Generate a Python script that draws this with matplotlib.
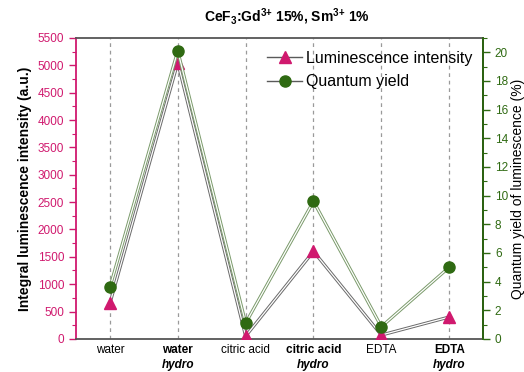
import matplotlib.pyplot as plt
import matplotlib.transforms as mtransforms
from matplotlib.ticker import MultipleLocator

plt.rcParams["font.family"] = ["Liberation Sans", "DejaVu Sans"]
plt.rcParams["mathtext.fontset"] = "custom"
plt.rcParams["mathtext.rm"] = "Liberation Sans"
plt.rcParams["mathtext.bf"] = "Liberation Sans:bold"

samples = ["water", "water", "citric acid", "citric acid", "EDTA", "EDTA"]
hydro = [False, True, False, True, False, True]
intensity = [650, 5050, 50, 1600, 70, 400]
quantum_yield = [3.6, 20.1, 1.1, 9.6, 0.85, 5.0]

PINK = "#d0196e"
GREEN = "#2f6a12"
x = list(range(len(samples)))

fig = plt.figure(figsize=(5.24, 3.72), dpi=100)
ax = fig.add_axes([0.145, 0.089, 0.777, 0.809])
ax2 = ax.twinx()

# vertical guides at each sample
for xi in x:
    ax.axvline(xi, color="#9a9a9a", ls=(0, (3, 3)), lw=0.9, zorder=0)

# double-stroke connecting lines
ax.plot(x, intensity, color="#6a6a6a", lw=2.3, zorder=2)
ax.plot(x, intensity, color="white", lw=0.9, zorder=2)
ax2.plot(x, quantum_yield, color="#7a9a6a", lw=2.3, zorder=2)
ax2.plot(x, quantum_yield, color="white", lw=0.9, zorder=2)

ax.plot(x, intensity, ls="none", marker="^", ms=9, color=PINK, zorder=4)
ax2.plot(x, quantum_yield, ls="none", marker="o", ms=8, color=GREEN, zorder=4)

ax.set_xlim(-0.5, 5.5)
ax.set_ylim(0, 5500)
ax2.set_ylim(0, 21)

ax.yaxis.set_major_locator(MultipleLocator(500))
ax.yaxis.set_minor_locator(MultipleLocator(250))
ax2.yaxis.set_major_locator(MultipleLocator(2))
ax2.yaxis.set_minor_locator(MultipleLocator(1))

ax.tick_params(axis="y", which="both", colors=PINK, labelsize=8.5,
               direction="out")
ax.tick_params(axis="y", which="major", length=5, width=1)
ax.tick_params(axis="y", which="minor", length=3, width=0.8)
ax2.tick_params(axis="y", which="both", colors=GREEN, labelsize=8.5,
                direction="out")
ax2.tick_params(axis="y", which="major", length=5, width=1)
ax2.tick_params(axis="y", which="minor", length=3, width=0.8)

ax.spines["left"].set_color(PINK)
ax2.spines["left"].set_visible(False)
ax2.spines["right"].set_color(GREEN)
for sp in ("left", "right", "top", "bottom"):
    ax.spines[sp].set_linewidth(1.3)
    ax2.spines[sp].set_linewidth(1.3)
ax.spines["top"].set_color("#555555")
ax.spines["bottom"].set_color("#555555")
ax2.spines["top"].set_visible(False)
ax2.spines["bottom"].set_visible(False)

# category labels: hydro samples in bold with italic second line
ax.set_xticks(x)
ax.set_xticklabels([])
ax.tick_params(axis="x", length=0)
trans = mtransforms.blended_transform_factory(ax.transData, ax.transAxes)
for xi, name, h in zip(x, samples, hydro):
    ax.text(xi, -0.018, name, transform=trans, ha="center", va="top",
            fontsize=8.5, fontweight="bold" if h else "normal")
    if h:
        ax.text(xi, -0.068, "hydro", transform=trans, ha="center", va="top",
                fontsize=8.5, fontweight="bold", fontstyle="italic")

ax.set_ylabel("Integral luminescence intensity (a.u.)", fontsize=10,
              fontweight="bold", labelpad=4)
ax2.set_ylabel("Quantum yield of luminescence (%)", fontsize=10, labelpad=2)

fig.text(0.548, 0.955,
         r"CeF$_{\mathbf{3}}$:Gd$^{\mathbf{3{+}}}$ 15%, Sm$^{\mathbf{3{+}}}$ 1%",
         ha="center", va="center", fontsize=10, fontweight="bold")

h1 = plt.Line2D([], [], color="#5a5a5a", lw=1, marker="^", ms=9,
                markerfacecolor=PINK, markeredgecolor=PINK)
h2 = plt.Line2D([], [], color="#5a5a5a", lw=1, marker="o", ms=8,
                markerfacecolor=GREEN, markeredgecolor=GREEN)
ax2.legend([h1, h2], ["Luminescence intensity", "Quantum yield"],
           loc="upper right", frameon=False, fontsize=11.5,
           handlelength=2.2, handletextpad=0.2, labelspacing=0.55,
           bbox_to_anchor=(1.0, 0.995), borderaxespad=0.3)

fig.savefig("out.png", dpi=100)
